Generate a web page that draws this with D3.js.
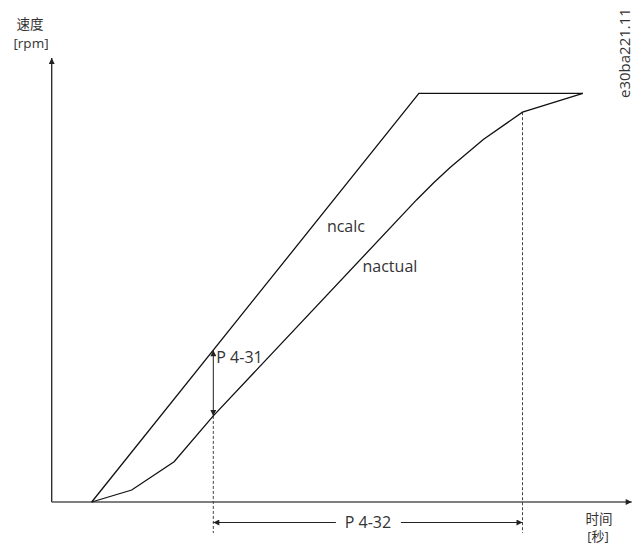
<!DOCTYPE html>
<html>
<head>
<meta charset="utf-8">
<script src="https://cdn.jsdelivr.net/npm/d3@7"></script>
<style>
  html, body { margin: 0; padding: 0; background: #fff; }
  svg { display: block; }
  text { font-family: "Open Sans", "Noto Sans CJK SC", sans-serif; fill: #333; }
</style>
</head>
<body>
<svg id="chart" width="633" height="544"></svg>
<script>
// Ramp profile: time in seconds, speed in rpm
const calcTime  = [1.0, 9.18, 13.28];
const calcSpeed = [0, 1500, 1500];
const actualTime  = [1.0, 2.0, 3.06, 4.04, 9.12, 9.55, 9.96, 10.79, 11.77, 13.28];
const actualSpeed = [0, 44, 148, 316, 1109, 1172, 1228, 1331, 1431, 1500];
// Parameter markers
const rampStartTime = 4.04;   // P 4-31 measured here
const rampEndTime = 11.77;    // end of P 4-32 window
const seriesLabels = ["ncalc", "nactual"];
const labelPos = [{ t: 6.88, v: 990 }, { t: 7.77, v: 845 }];
const paramLabels = ["P 4-31", "P 4-32"];
const axisLabelsY = ["速度", "[rpm]"];
const axisLabelsX = ["时间", "[秒]"];
const docId = "e30ba221.11";

const svg = d3.select("#chart");
const x = d3.scaleLinear().domain([0, 14.5]).range([51.7, 631.7]);
const y = d3.scaleLinear().domain([0, 1630]).range([502, 58]);

const defs = svg.append("defs");
function marker(id, color) {
  defs.append("marker")
    .attr("id", id).attr("viewBox", "0 0 10 10")
    .attr("refX", 10).attr("refY", 5)
    .attr("markerWidth", 8).attr("markerHeight", 6)
    .attr("markerUnits", "userSpaceOnUse")
    .attr("orient", "auto-start-reverse")
    .append("path").attr("d", "M0,0 L10,5 L0,10 z").attr("fill", color);
}
marker("arrowAxis", "#222");
marker("arrowDim", "#222");

// Axes
svg.append("line")
  .attr("x1", x(0)).attr("y1", y(0)).attr("x2", x(0)).attr("y2", y(1630))
  .attr("stroke", "#222").attr("stroke-width", 1.3)
  .attr("marker-end", "url(#arrowAxis)");
svg.append("line")
  .attr("x1", x(0)).attr("y1", y(0)).attr("x2", x(14.5)).attr("y2", y(0))
  .attr("stroke", "#555").attr("stroke-width", 1.5)
  .attr("marker-end", "url(#arrowAxis)");

// Dashed guides
[rampStartTime, rampEndTime].forEach((t, i) => {
  const top = i === 0 ? actualSpeed[3] : actualSpeed[8];
  svg.append("line")
    .attr("x1", x(t)).attr("x2", x(t))
    .attr("y1", y(top)).attr("y2", y(0) + 31)
    .attr("stroke", "#444").attr("stroke-width", 1)
    .attr("stroke-dasharray", "3,2");
});

const line = d3.line().x(d => x(d[0])).y(d => y(d[1]));
svg.append("path")
  .datum(calcTime.map((t, i) => [t, calcSpeed[i]]))
  .attr("d", line).attr("fill", "none")
  .attr("stroke", "#111").attr("stroke-width", 1.3);
svg.append("path")
  .datum(actualTime.map((t, i) => [t, actualSpeed[i]]))
  .attr("d", line).attr("fill", "none")
  .attr("stroke", "#111").attr("stroke-width", 1.3);

// P 4-31: speed gap between ncalc and nactual at rampStartTime
const calcAtStart = d3.scaleLinear().domain(calcTime.slice(0, 2)).range(calcSpeed.slice(0, 2))(rampStartTime);
svg.append("line")
  .attr("x1", x(rampStartTime)).attr("x2", x(rampStartTime))
  .attr("y1", y(calcAtStart)).attr("y2", y(actualSpeed[3]))
  .attr("stroke", "#222").attr("stroke-width", 1)
  .attr("marker-start", "url(#arrowDim)").attr("marker-end", "url(#arrowDim)");
svg.append("text")
  .attr("x", x(rampStartTime) + 3).attr("y", y(calcAtStart) + 13)
  .attr("font-size", 16).text(paramLabels[0]);

// P 4-32 dimension
const dimY = y(0) + 20.5;
const midX = (x(rampStartTime) + x(rampEndTime)) / 2;
svg.append("line")
  .attr("x1", midX - 32).attr("x2", x(rampStartTime))
  .attr("y1", dimY).attr("y2", dimY)
  .attr("stroke", "#222").attr("stroke-width", 1)
  .attr("marker-end", "url(#arrowDim)");
svg.append("line")
  .attr("x1", midX + 33).attr("x2", x(rampEndTime))
  .attr("y1", dimY).attr("y2", dimY)
  .attr("stroke", "#222").attr("stroke-width", 1)
  .attr("marker-end", "url(#arrowDim)");
svg.append("text")
  .attr("x", midX).attr("y", dimY + 5.5)
  .attr("text-anchor", "middle").attr("font-size", 16).text(paramLabels[1]);

// Series labels
seriesLabels.forEach((s, i) => {
  svg.append("text")
    .attr("x", x(labelPos[i].t)).attr("y", y(labelPos[i].v))
    .attr("font-size", 16).text(s);
});

// Axis titles
svg.append("text").attr("x", 30).attr("y", 29).attr("text-anchor", "middle")
  .attr("font-size", 13.5).text(axisLabelsY[0]);
svg.append("text").attr("x", 31).attr("y", 47.5).attr("text-anchor", "middle")
  .attr("font-size", 13.5).text(axisLabelsY[1]);
svg.append("text").attr("x", 599).attr("y", 523.5).attr("text-anchor", "middle")
  .attr("font-size", 13.5).text(axisLabelsX[0]);
svg.append("text").attr("x", 598).attr("y", 540.5).attr("text-anchor", "middle")
  .attr("font-size", 13).text(axisLabelsX[1]);

// Document reference, vertical
svg.append("text")
  .attr("transform", "translate(630,98) rotate(-90)")
  .attr("font-size", 15).text(docId);
</script>
</body>
</html>
